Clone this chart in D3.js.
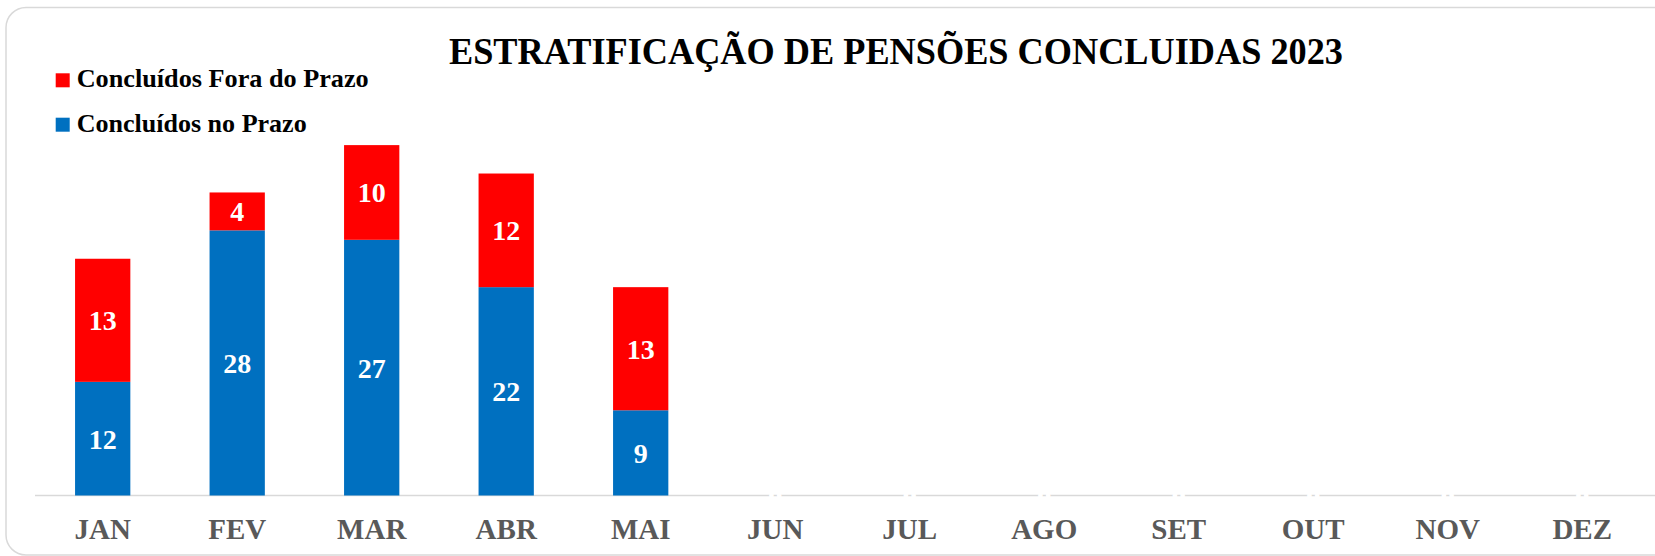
<!DOCTYPE html>
<html>
<head>
<meta charset="utf-8">
<script src="https://cdn.jsdelivr.net/npm/d3@7"></script>
<style>
  html, body { margin: 0; padding: 0; background: #ffffff; }
  svg { display: block; }
  text { font-family: "Liberation Serif", "Times New Roman", serif; font-weight: bold; }
</style>
</head>
<body>
<svg id="chart" width="1655" height="556"></svg>
<script>
const title = "ESTRATIFICAÇÃO DE PENSÕES CONCLUIDAS 2023";
const categories = ["JAN", "FEV", "MAR", "ABR", "MAI", "JUN", "JUL", "AGO", "SET", "OUT", "NOV", "DEZ"];
const seriesNames = ["Concluídos no Prazo", "Concluídos Fora do Prazo"];
const noPrazo = [12, 28, 27, 22, 9, 0, 0, 0, 0, 0, 0, 0];
const foraPrazo = [13, 4, 10, 12, 13, 0, 0, 0, 0, 0, 0, 0];
const colors = ["#0070C0", "#FF0000"];
const yMax = 40;

const W = 1655, H = 556;
const svg = d3.select("#chart");

// outer rounded frame
svg.append("rect")
  .attr("x", 6).attr("y", 7.5)
  .attr("width", W + 40).attr("height", 547.5)
  .attr("rx", 20).attr("ry", 20)
  .attr("fill", "#ffffff")
  .attr("stroke", "#d9d9d9").attr("stroke-width", 1.5);

const x = d3.scaleBand()
  .domain(categories)
  .range([35.45, 1649.45])
  .paddingInner(0.589)
  .paddingOuter(0.2945);

const y = d3.scaleLinear().domain([0, yMax]).range([495.5, 116.7]);

const table = categories.map((c, i) => ({ cat: c, noPrazo: noPrazo[i], foraPrazo: foraPrazo[i] }));
const stack = d3.stack().keys(["noPrazo", "foraPrazo"])(table);

// axis line
const xAxis = d3.axisBottom(x).tickSize(0).tickPadding(0);
const gx = svg.append("g").attr("transform", `translate(0,${y(0)})`).call(xAxis);
gx.select(".domain").attr("stroke", "#d9d9d9").attr("stroke-width", 1.5)
  .attr("d", `M35,0H${W}`);
gx.selectAll(".tick text")
  .attr("y", 43.5)
  .attr("dy", null)
  .attr("fill", "#595959")
  .style("font-family", '"Liberation Serif", "Times New Roman", serif')
  .style("font-weight", "bold")
  .style("font-size", "29px");

// bars
const layers = svg.append("g").selectAll("g")
  .data(stack).join("g")
  .attr("fill", (d, i) => colors[i]);

layers.selectAll("rect")
  .data(d => d)
  .join("rect")
  .attr("x", d => x(d.data.cat))
  .attr("width", x.bandwidth())
  .attr("y", d => y(d[1]))
  .attr("height", d => y(d[0]) - y(d[1]));

// data labels
const labels = svg.append("g");
stack.forEach(layer => {
  labels.selectAll(null)
    .data(layer)
    .join("text")
    .attr("x", d => x(d.data.cat) + x.bandwidth() / 2)
    .attr("y", d => (y(d[0]) + y(d[1])) / 2 + 10)
    .attr("text-anchor", "middle")
    .attr("fill", "#ffffff")
    .style("font-size", "28px")
    .text(d => d[1] - d[0]);
});

// title
svg.append("text")
  .attr("x", 896).attr("y", 64.3)
  .attr("text-anchor", "middle")
  .attr("fill", "#000000")
  .style("font-size", "38px")
  .attr("textLength", 894)
  .attr("lengthAdjust", "spacingAndGlyphs")
  .text(title);

// legend (Fora do Prazo on top)
const legendItems = [
  { name: seriesNames[1], color: colors[1], y: 87.3, len: 292 },
  { name: seriesNames[0], color: colors[0], y: 131.7, len: 230 }
];
const lg = svg.append("g");
legendItems.forEach(it => {
  lg.append("rect")
    .attr("x", 55.7).attr("y", it.y - 14)
    .attr("width", 14).attr("height", 14)
    .attr("fill", it.color);
  lg.append("text")
    .attr("x", 76.7).attr("y", it.y)
    .attr("fill", "#000000")
    .style("font-size", "25px")
    .attr("textLength", it.len)
    .attr("lengthAdjust", "spacingAndGlyphs")
    .text(it.name);
});
</script>
</body>
</html>
